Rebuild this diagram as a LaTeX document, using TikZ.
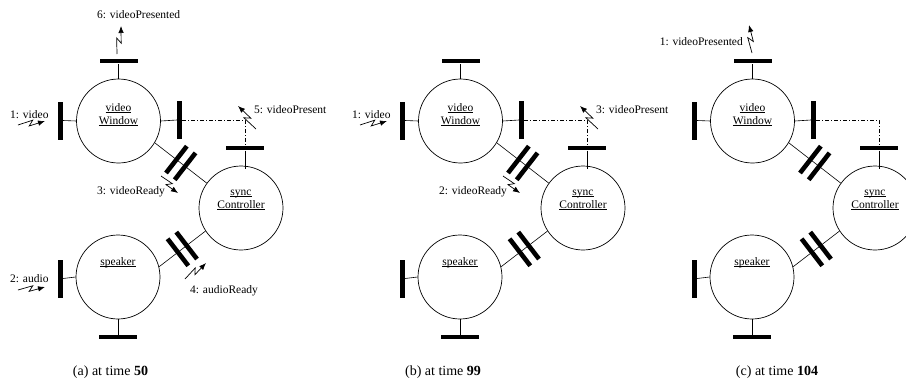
\documentclass[tikz,border=0pt]{standalone}
\usepackage{fontspec}
\setmainfont{Liberation Serif}
\usetikzlibrary{calc,arrows.meta}
\newcommand\ulx[1]{\underline{\smash{#1}\vphantom{a}}}
\newcommand\zap[2]{\draw[zapline] (#1) -- ($(#1)!0.56!(#2)!2.6pt!90:(#2)$) -- ($(#1)!0.40!(#2)!2.6pt!-90:(#2)$) -- (#2);}
\newcommand\capbars[2]{%
  \draw[thinline] (#1) -- (#2);
  \draw[capbar] ($(#1)!0.5!(#2)!-5.5pt!(#2)!17pt!90:(#2)$) -- ($(#1)!0.5!(#2)!-5.5pt!(#2)!17pt!-90:(#2)$);
  \draw[capbar] ($(#1)!0.5!(#2)!5.5pt!(#2)!17pt!90:(#2)$) -- ($(#1)!0.5!(#2)!5.5pt!(#2)!17pt!-90:(#2)$);}
\begin{document}
\begin{tikzpicture}[x=1pt,y=-1pt,
  obj/.style={circle,draw,line width=0.7pt,minimum size=84pt,inner sep=0pt},
  hbar/.style={rectangle,fill=black,inner sep=0pt,minimum width=38pt,minimum height=4.6pt},
  vbar/.style={rectangle,fill=black,inner sep=0pt,minimum width=4.6pt,minimum height=38pt},
  thinline/.style={line width=0.6pt},
  capbar/.style={line width=4.6pt,line cap=butt},
  zapline/.style={line width=0.7pt,line join=miter,-{Latex[length=7pt,width=5.5pt]}},
  dashdot/.style={line width=0.6pt,dash pattern=on 4pt off 2pt on 1pt off 2pt},
  lbl/.style={inner sep=0pt,font=\fontsize{11.5}{13}\selectfont},
  captext/.style={inner sep=0pt,font=\fontsize{14}{16}\selectfont,anchor=base}]
\useasboundingbox (0,0) rectangle (906,378);
\clip (0,0) rectangle (906,378);
\foreach \p/\o in {a/0,b/342,c/634}{
 \begin{scope}[xshift=\o pt]
  % objects
  \node[obj] (vw\p) at (118.5,121) {};
  \node[obj] (sc\p) at (241,208) {};
  \node[obj] (sp\p) at (118,277) {};
  \node[lbl,anchor=base] (vwt\p) at (118.5,111) {\ulx{video}};
  \node[lbl,anchor=base] (vwu\p) at (118.5,124) {\ulx{Window}};
  \node[lbl,anchor=base] (sct\p) at (241,195) {\ulx{sync}};
  \node[lbl,anchor=base] (scu\p) at (241,208) {\ulx{Controller}};
  \node[lbl,anchor=base] (spt\p) at (118,265) {\ulx{speaker}};
  % ports
  \node[hbar] (vwT\p) at (118.5,61) {};
  \node[vbar] (vwL\p) at (60.5,120.5) {};
  \node[vbar] (vwR\p) at (179.5,120) {};
  \node[hbar] (scT\p) at (245,148) {};
  \node[vbar] (spL\p) at (60.5,278.5) {};
  \node[hbar] (spB\p) at (118,337) {};
  \draw[thinline] (vw\p.north) -- (vwT\p.south);
  \draw[thinline] (vw\p.west) -- (vwL\p.east);
  \draw[thinline] (vw\p.east) -- (vwR\p.west);
  \draw[thinline] (scT\p.south) -- ++(0,18);
  \draw[thinline] (sp\p.west) -- (spL\p.east);
  \draw[thinline] (sp\p.south) -- (spB\p.north);
  % connectors
  \draw[dashdot] (vwR\p.east) -| (scT\p.north);
  \capbars{vw\p.-31}{sc\p.144}
  \capbars{sc\p.213}{sp\p.14}
  % signal anchor points
  \coordinate (vin\p) at (18,125);   \coordinate (vinE\p) at (45,121);
  \coordinate (ain\p) at (18,290);   \coordinate (ainE\p) at (45,287);
  \coordinate (vr\p) at (161,176);   \coordinate (vrE\p) at (178,193);
  \coordinate (ar\p) at (185,279);   \coordinate (arE\p) at (206,263);
  \coordinate (vp\p) at (256,129);   \coordinate (vpE\p) at (238,106);
 \end{scope}
}
% panel (a)
\node[lbl,anchor=base west] (l6a) at (97,18) {6: videoPresented};
\coordinate (vpdA) at (117,54); \coordinate (vpdAE) at (121,26);
\zap{vpdA}{vpdAE}
\node[lbl,anchor=base west] (l1a) at (10,118) {1: video};
\zap{vina}{vinEa}
\node[lbl,anchor=base west] (l5a) at (254,113) {5: videoPresent};
\zap{vpa}{vpEa}
\node[lbl,anchor=base west] (l3a) at (97,194) {3: videoReady};
\zap{vra}{vrEa}
\node[lbl,anchor=base west] (l2a) at (10,282) {2: audio};
\zap{aina}{ainEa}
\node[lbl,anchor=base west] (l4a) at (190,293) {4: audioReady};
\zap{ara}{arEa}
\node[captext] (capa) at (110.5,375) {(a) at time \textbf{50}};
% panel (b)
\node[lbl,anchor=base west] (l1b) at (352,118) {1: video};
\zap{vinb}{vinEb}
\node[lbl,anchor=base west] (l3b) at (596,113) {3: videoPresent};
\zap{vpb}{vpEb}
\node[lbl,anchor=base west] (l2b) at (439,194) {2: videoReady};
\zap{vrb}{vrEb}
\node[captext] (capb) at (443,375) {(b) at time \textbf{99}};
% panel (c)
\node[lbl,anchor=base east] (l1c) at (743,45) {1: videoPresented};
\coordinate (vpdC) at (752,53); \coordinate (vpdCE) at (749,25);
\zap{vpdC}{vpdCE}
\node[captext] (capc) at (777,375) {(c) at time \textbf{104}};
\end{tikzpicture}
\end{document}
